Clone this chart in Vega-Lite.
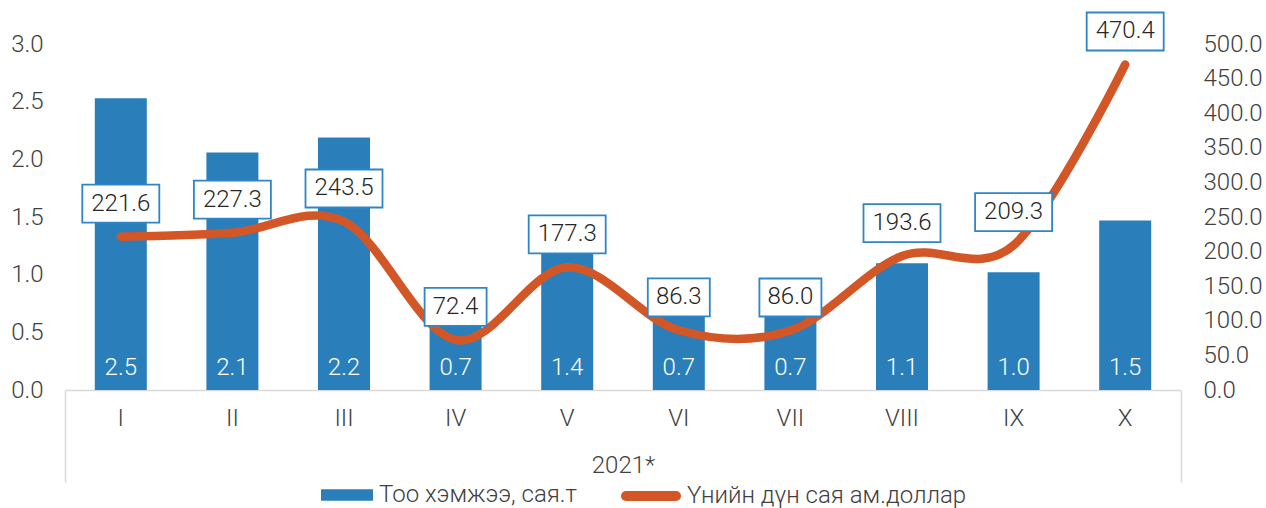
{
  "$schema": "https://vega.github.io/schema/vega-lite/v6.json",
  "width": 1116,
  "height": 346,
  "autosize": {"type": "none"},
  "padding": {"left": 65, "top": 44, "right": 85, "bottom": 118},
  "background": "white",
  "config": {
    "font": "Roboto",
    "view": {"stroke": null},
    "axis": {"grid": false, "labelFont": "Roboto", "labelFontWeight": 300, "labelFontSize": 24, "labelColor": "#404040", "titleFont": "Roboto", "titleFontWeight": 300, "titleFontSize": 24, "titleColor": "#404040"},
    "legend": {"labelFont": "Roboto", "labelFontWeight": 300, "labelFontSize": 24, "labelColor": "#404040", "padding": 0, "labelLimit": 500}
  },
  "data": {
    "values": [
      {"m": "I", "qty": 2.53, "val": 221.6},
      {"m": "II", "qty": 2.06, "val": 227.3},
      {"m": "III", "qty": 2.19, "val": 243.5},
      {"m": "IV", "qty": 0.7, "val": 72.4},
      {"m": "V", "qty": 1.4, "val": 177.3},
      {"m": "VI", "qty": 0.66, "val": 86.3},
      {"m": "VII", "qty": 0.66, "val": 86.0},
      {"m": "VIII", "qty": 1.1, "val": 193.6},
      {"m": "IX", "qty": 1.02, "val": 209.3},
      {"m": "X", "qty": 1.47, "val": 470.4}
    ]
  },
  "resolve": {"scale": {"y": "independent", "fill": "independent", "stroke": "independent"}, "axis": {"x": "independent"}},
  "layer": [
    {
      "mark": {"type": "bar", "width": {"band": 0.466}},
      "encoding": {
        "x": {"field": "m", "type": "nominal", "scale": {"type": "band", "domain": ["I","II","III","IV","V","VI","VII","VIII","IX","X"], "paddingInner": 0, "paddingOuter": 0},
              "axis": {"orient": "bottom", "title": "2021*", "labelAngle": 0, "ticks": false, "domainColor": "#D9D9D9", "domainWidth": 1.5, "labelPadding": 16, "titlePadding": 23}},
        "y": {"field": "qty", "type": "quantitative", "scale": {"domain": [0, 3]},
              "axis": {"orient": "left", "title": null, "values": [0, 0.5, 1, 1.5, 2, 2.5, 3], "format": ".1f", "ticks": false, "domain": false, "labelPadding": 22}},
        "fill": {"datum": "Тоо хэмжээ, сая.т", "scale": {"range": ["#2A7FBA"]},
                 "legend": {"title": null, "orient": "none", "legendX": 256, "legendY": 425, "symbolType": "M-1,-0.22H1V0.22H-1Z", "symbolSize": 2704, "symbolStrokeWidth": 0, "labelOffset": 6, "labelLimit": 500}}
      }
    },
    {
      "mark": {"type": "text", "color": "white", "fontSize": 24, "fontWeight": 300, "baseline": "alphabetic", "dy": -15},
      "encoding": {
        "x": {"field": "m", "type": "nominal", "axis": null},
        "y": {"datum": 0, "type": "quantitative", "scale": {"domain": [0, 3]}, "axis": null},
        "text": {"field": "qty", "type": "quantitative", "format": ".1f"}
      }
    },
    {
      "mark": {"type": "line", "interpolate": "cardinal", "strokeWidth": 8.5, "strokeCap": "round"},
      "encoding": {
        "x": {"field": "m", "type": "nominal",
              "axis": {"orient": "bottom", "values": ["I"], "bandPosition": 0, "tickSize": 92, "tickColor": "#D9D9D9", "tickWidth": 1.5, "labels": false, "domain": false, "title": null}},
        "y": {"field": "val", "type": "quantitative", "scale": {"domain": [0, 500]},
              "axis": {"orient": "right", "title": null, "values": [0, 50, 100, 150, 200, 250, 300, 350, 400, 450, 500], "format": ".1f", "ticks": false, "domain": false, "labelPadding": 22}},
        "stroke": {"datum": "Үнийн дүн сая ам.доллар", "scale": {"range": ["#D35627"]},
                   "legend": {"title": null, "orient": "none", "legendX": 556, "legendY": 422, "symbolType": "stroke", "symbolSize": 2500, "symbolStrokeWidth": 10, "labelOffset": 6, "labelLimit": 500,
                              "encode": {"symbols": {"update": {"strokeCap": {"value": "round"}}}}}}
      }
    },
    {
      "mark": {"type": "point", "filled": false, "fill": "white", "fillOpacity": 1, "stroke": "#2E86C8", "strokeWidth": 1.8, "opacity": 1, "yOffset": -33},
      "encoding": {
        "x": {"field": "m", "type": "nominal",
              "axis": {"orient": "bottom", "values": ["X"], "bandPosition": 1, "tickSize": 92, "tickColor": "#D9D9D9", "tickWidth": 1.5, "labels": false, "domain": false, "title": null}},
        "y": {"field": "val", "type": "quantitative", "scale": {"domain": [0, 500]}, "axis": null},
        "shape": {"condition": {"test": "datum.val < 100", "value": "M-1,-0.613H1V0.613H-1Z"}, "value": "M-1,-0.4935H1V0.4935H-1Z"},
        "size": {"condition": {"test": "datum.val < 100", "value": 3844}, "value": 5929}
      }
    },
    {
      "mark": {"type": "text", "color": "#262626", "fontSize": 24, "fontWeight": 300, "baseline": "middle", "dy": -33},
      "encoding": {
        "x": {"field": "m", "type": "nominal", "axis": null},
        "y": {"field": "val", "type": "quantitative", "scale": {"domain": [0, 500]}, "axis": null},
        "text": {"field": "val", "type": "quantitative", "format": ".1f"}
      }
    }
  ]
}
